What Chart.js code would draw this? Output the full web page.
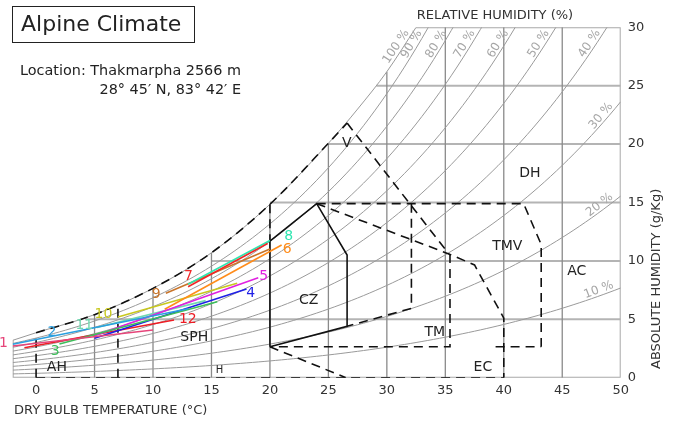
<!DOCTYPE html>
<html>
<head>
<meta charset="utf-8">
<script src="https://cdn.jsdelivr.net/npm/chart.js@4.4.1/dist/chart.umd.min.js"></script>
<style>
  html, body { margin: 0; padding: 0; background: #fff; }
  #wrap { position: relative; width: 675px; height: 421px; overflow: hidden; }
  #chart { position: absolute; left: 0; top: 0; }
  .title {
    position: absolute; left: 12px; top: 6px; width: 183px; height: 37px;
    box-sizing: border-box; border: 1.5px solid #222; padding-left: 8px;
    font: 22px "DejaVu Sans", sans-serif; line-height: 34px; color: #222;
  }
  .loc {
    position: absolute; left: 8px; top: 61px; width: 233px; text-align: right;
    font: 14.4px "DejaVu Sans", sans-serif; line-height: 19px; color: #222;
  }
</style>
</head>
<body>
<div id="wrap">
  <canvas id="chart" width="675" height="421"></canvas>
  <div class="title">Alpine Climate</div>
  <div class="loc">Location: Thakmarpha 2566 m<br>28° 45′ N, 83° 42′ E</div>
</div>
<script>
// ---- Monthly climate lines: (min temp, humidity) -> (max temp, humidity) ----
const months = ['1', '2', '3', '4', '5', '6', '7', '8', '9', '10', '11', '12'];
const monthColors = ['#e6457a', '#2a9fe0', '#3cbf5a', '#1f1fe6', '#e020e0', '#ff8c1a',
                     '#f02828', '#2ee6b0', '#c8742a', '#c8c81e', '#70d8b0', '#ee1c24'];
const minTemp          = [-2.0, -2.0, 2.0, 5.0, 5.0, 11.0, 13.0, 13.0, 11.1, 7.0, 5.2, -1.0];
const minTempHumidity  = [2.71, 2.86, 2.88, 3.37, 3.60, 5.86, 7.79, 8.00, 7.23, 5.20, 4.30, 2.57];
const maxTemp          = [10.0, 13.0, 15.5, 18.0, 19.0, 21.0, 19.8, 20.0, 20.0, 17.2, 14.5, 11.8];
const maxTempHumidity  = [4.08, 5.90, 6.50, 7.59, 8.55, 11.36, 11.49, 11.75, 11.02, 8.08, 6.60, 4.94];
const monthLabelTemp     = [-2.80, 1.35, 1.64, 18.35, 19.46, 21.47, 13.04, 21.60, 10.27, 5.76, 4.13, 12.98];
const monthLabelHumidity = [2.91, 3.91, 2.22, 7.19, 8.70, 11.02, 8.71, 12.13, 7.16, 5.45, 4.48, 4.97];

// ---- Axes ----
const tempTicks = [0, 5, 10, 15, 20, 25, 30, 35, 40, 45, 50];
const humidityTicks = [0, 5, 10, 15, 20, 25, 30];
const tempMin = -2, tempMax = 50, humidityMax = 30;
const rhLevels = [10, 20, 30, 40, 50, 60, 70, 80, 90];

// ---- Saturation (100 %) curve as drawn on the chart ----
const saturationTemp     = [-2, 0, 5, 10, 15, 20, 25, 27.5, 30, 32.5];
const saturationHumidity = [3.2, 3.85, 5.4, 7.65, 10.7, 14.85, 20.07, 23.0, 26.2, 30.0];
// where each humidity grid line leaves the saturation curve (for 5..25 g/kg)
const humidityGridStart = [4.2, 15.0, 20.0, 25.0, 29.1];

// ---- Bioclimatic zone names and label anchors ----
const zoneNames = ['V', 'DH', 'TMV', 'AC', 'CZ', 'TM', 'EC', 'SPH', 'AH', 'H'];
const zoneLabelTemp     = [26.57, 42.24, 40.30, 46.24, 23.31, 34.10, 38.21, 13.53, 1.78, 15.69];
const zoneLabelHumidity = [20.10, 17.53, 11.28, 9.07, 6.65, 3.88, 0.87, 3.44, 0.87, 0.63];

// ---- Zone boundaries (temperature °C, humidity g/kg) ----
const comfortZone = [[20, 2.65], [20, 11.7], [24.0, 14.9], [26.6, 10.5], [26.6, 4.4], [20, 2.65]];
const saturationEdge = [[0, 3.85], [5, 5.4], [10, 7.65], [15, 10.7], [20, 14.85], [25, 20.07], [26.6, 21.8]];
const heatingLeft = [[0, 0], [0, 3.85]];
const heatingRight = [[7, 0], [7, 6.25]];
const ventilationLeft = [[20, 14.85], [20, 11.7]];
const zeroLine = [[0, 0], [40, 0]];
const ventilationRight = [[26.6, 21.8], [35.3, 10.6]];
const coolingEdge = [[24.0, 14.9], [35.3, 10.6], [37.5, 9.65], [40, 5.1], [40, 0]];
const massVentEdge = [[24.0, 14.9], [41.7, 14.9], [43.2, 11.4], [43.2, 2.65]];
const massEdge = [[32.1, 14.9], [32.1, 5.94], [26.6, 4.4]];
const massBox = [[35.4, 10.6], [35.4, 2.65], [20, 2.65]];
const massBottom = [[39.3, 2.65], [43.2, 2.65]];
const coolingLow = [[20, 2.65], [26.5, 0]];

// ---- Psychrometrics (sea-level pressure) for the partial-humidity curves ----
const P_ATM = 101.325;
function satPressure(t) { return 0.61094 * Math.exp(17.625 * t / (t + 243.04)); }
function humidityAt(t, rh) {
  const pv = rh / 100 * satPressure(t);
  return 622 * pv / (P_ATM - pv);
}
function tempAt(w, rh) {
  let lo = -10, hi = 80;
  for (let i = 0; i < 60; i++) {
    const mid = (lo + hi) / 2;
    if (humidityAt(mid, rh) < w) lo = mid; else hi = mid;
  }
  return (lo + hi) / 2;
}
function rhCurve(rh) {
  const pts = [];
  const tEnd = Math.min(tempMax, tempAt(humidityMax, rh));
  for (let t = tempMin; t < tEnd; t += 0.5) pts.push({ x: t, y: humidityAt(t, rh) });
  pts.push({ x: tEnd, y: humidityAt(tEnd, rh) });
  return pts;
}

const toXY = pts => pts.map(p => ({ x: p[0], y: p[1] }));
const datasets = [];
const lineBase = { showLine: true, pointRadius: 0, fill: false, tension: 0 };
const DASH = [9, 6];
const ZONE = '#111';

// monthly lines on top
months.forEach((m, i) => {
  datasets.push(Object.assign({}, lineBase, {
    label: 'Month ' + m,
    data: [{ x: minTemp[i], y: minTempHumidity[i] }, { x: maxTemp[i], y: maxTempHumidity[i] }],
    borderColor: monthColors[i], borderWidth: 1.6, order: 0
  }));
});

// zone outlines
datasets.push(Object.assign({}, lineBase, {
  label: 'CZ', data: toXY(comfortZone), borderColor: ZONE, borderWidth: 1.6, order: 1
}));
[heatingLeft, heatingRight, ventilationLeft, zeroLine, ventilationRight, coolingEdge,
 massVentEdge, massEdge, massBox, massBottom, coolingLow].forEach((pts, i) => {
  datasets.push(Object.assign({}, lineBase, {
    label: 'zone edge ' + i, data: toXY(pts), borderColor: ZONE, borderWidth: 1.6,
    borderDash: DASH, order: 1
  }));
});
datasets.push(Object.assign({}, lineBase, {
  label: 'saturation zone edge', data: toXY(saturationEdge), borderColor: ZONE, borderWidth: 1.6,
  borderDash: DASH, cubicInterpolationMode: 'monotone', order: 1
}));

// vertical temperature grid, up to the saturation curve
tempTicks.slice(1, -1).forEach(t => {
  const k = saturationTemp.indexOf(t);
  const top = k >= 0 ? saturationHumidity[k] : humidityMax;
  datasets.push(Object.assign({}, lineBase, {
    label: 'T' + t, data: [{ x: t, y: 0 }, { x: t, y: top }],
    borderColor: '#8a8a8a', borderWidth: 1.3, order: 3
  }));
});
// horizontal humidity grid, from the saturation curve to the right edge
humidityTicks.slice(1, -1).forEach((w, i) => {
  datasets.push(Object.assign({}, lineBase, {
    label: 'W' + w, data: [{ x: humidityGridStart[i], y: w }, { x: tempMax, y: w }],
    borderColor: '#b4b4b4', borderWidth: 2, order: 3
  }));
});
// frame
datasets.push(Object.assign({}, lineBase, {
  label: 'frame', data: [{ x: tempMin, y: saturationHumidity[0] }, { x: tempMin, y: 0 }, { x: tempMax, y: 0 },
    { x: tempMax, y: humidityMax }, { x: saturationTemp[saturationTemp.length - 1], y: humidityMax }],
  borderColor: '#a8a8a8', borderWidth: 2, order: 3
}));
// 100 % curve
datasets.push(Object.assign({}, lineBase, {
  label: '100 %', data: saturationTemp.map((t, i) => ({ x: t, y: saturationHumidity[i] })),
  borderColor: '#9a9a9a', borderWidth: 1, cubicInterpolationMode: 'monotone', order: 2
}));
rhLevels.forEach(rh => {
  datasets.push(Object.assign({}, lineBase, {
    label: rh + ' %', data: rhCurve(rh), borderColor: '#9a9a9a', borderWidth: 1, order: 2
  }));
});

// ---- Text layer: axis titles, curve labels, zone and month labels ----
const textLayer = {
  id: 'textLayer',
  afterDatasetsDraw(chart) {
    const { ctx, scales: { x, y } } = chart;
    const unitX = x.getPixelForValue(1) - x.getPixelForValue(0);
    const unitY = y.getPixelForValue(0) - y.getPixelForValue(1);
    ctx.save();
    ctx.textAlign = 'center';
    ctx.textBaseline = 'middle';

    ctx.fillStyle = '#333';
    ctx.font = '13px "DejaVu Sans"';
    ctx.fillText('RELATIVE HUMIDITY (%)', 495, 16);
    ctx.textAlign = 'left';
    ctx.fillText('DRY BULB TEMPERATURE (°C)', 14, 411);
    ctx.save();
    ctx.translate(657, 369);
    ctx.rotate(-Math.PI / 2);
    ctx.fillText('ABSOLUTE HUMIDITY (g/Kg)', 0, 0);
    ctx.restore();

    // RH labels beside the upper end of each curve
    ctx.fillStyle = '#a6a6a6';
    ctx.font = '12px "DejaVu Sans"';
    const drawRhLabel = (text, t, w, slope) => {
      ctx.save();
      ctx.translate(x.getPixelForValue(t), y.getPixelForValue(w));
      ctx.rotate(-Math.atan(slope * unitY / unitX));
      ctx.textAlign = 'right';
      ctx.textBaseline = 'bottom';
      ctx.fillText(text, -1, 0);
      ctx.restore();
    };
    const nT = saturationTemp.length;
    const satSlope = (saturationHumidity[nT - 1] - saturationHumidity[nT - 2]) /
                     (saturationTemp[nT - 1] - saturationTemp[nT - 2]);
    drawRhLabel('100 %', saturationTemp[nT - 1] - 0.5 / satSlope, humidityMax - 0.5, satSlope);
    rhLevels.forEach(rh => {
      const tTop = tempAt(humidityMax, rh);
      const t = tTop < tempMax ? tempAt(humidityMax - 0.5, rh) : tempMax - 0.4;
      const slope = (humidityAt(t + 0.1, rh) - humidityAt(t - 0.1, rh)) / 0.2;
      drawRhLabel(rh + ' %', t, humidityAt(t, rh), slope);
    });

    // zone names
    ctx.fillStyle = '#222';
    ctx.textAlign = 'center';
    ctx.textBaseline = 'middle';
    zoneNames.forEach((n, i) => {
      ctx.font = (n === 'H' ? '10px' : '14px') + ' "DejaVu Sans"';
      ctx.fillText(n, x.getPixelForValue(zoneLabelTemp[i]), y.getPixelForValue(zoneLabelHumidity[i]));
    });

    // month numbers
    ctx.font = '14px "DejaVu Sans"';
    months.forEach((m, i) => {
      ctx.fillStyle = monthColors[i];
      ctx.fillText(m, x.getPixelForValue(monthLabelTemp[i]), y.getPixelForValue(monthLabelHumidity[i]));
    });
    ctx.restore();
  }
};

new Chart(document.getElementById('chart'), {
  type: 'scatter',
  data: { datasets },
  options: {
    responsive: false,
    animation: false,
    devicePixelRatio: 1,
    layout: { padding: { left: 12.7, top: 27.3, right: 0, bottom: 0 } },
    plugins: { legend: { display: false }, tooltip: { enabled: false } },
    scales: {
      x: {
        type: 'linear', min: tempMin, max: tempMax,
        afterBuildTicks: s => { s.ticks = tempTicks.map(v => ({ value: v })); },
        afterFit: s => { s.height = 43.3; },
        grid: { display: false, drawTicks: false }, border: { display: false },
        ticks: { color: '#333', font: { family: 'DejaVu Sans', size: 13 }, padding: 5, maxRotation: 0 }
      },
      y: {
        type: 'linear', position: 'right', min: 0, max: humidityMax,
        afterBuildTicks: s => { s.ticks = humidityTicks.map(v => ({ value: v })); },
        afterFit: s => { s.width = 54.3; },
        grid: { display: false, drawTicks: false }, border: { display: false },
        ticks: { color: '#333', font: { family: 'DejaVu Sans', size: 13 }, padding: 7 }
      }
    }
  },
  plugins: [textLayer]
});
</script>
</body>
</html>
